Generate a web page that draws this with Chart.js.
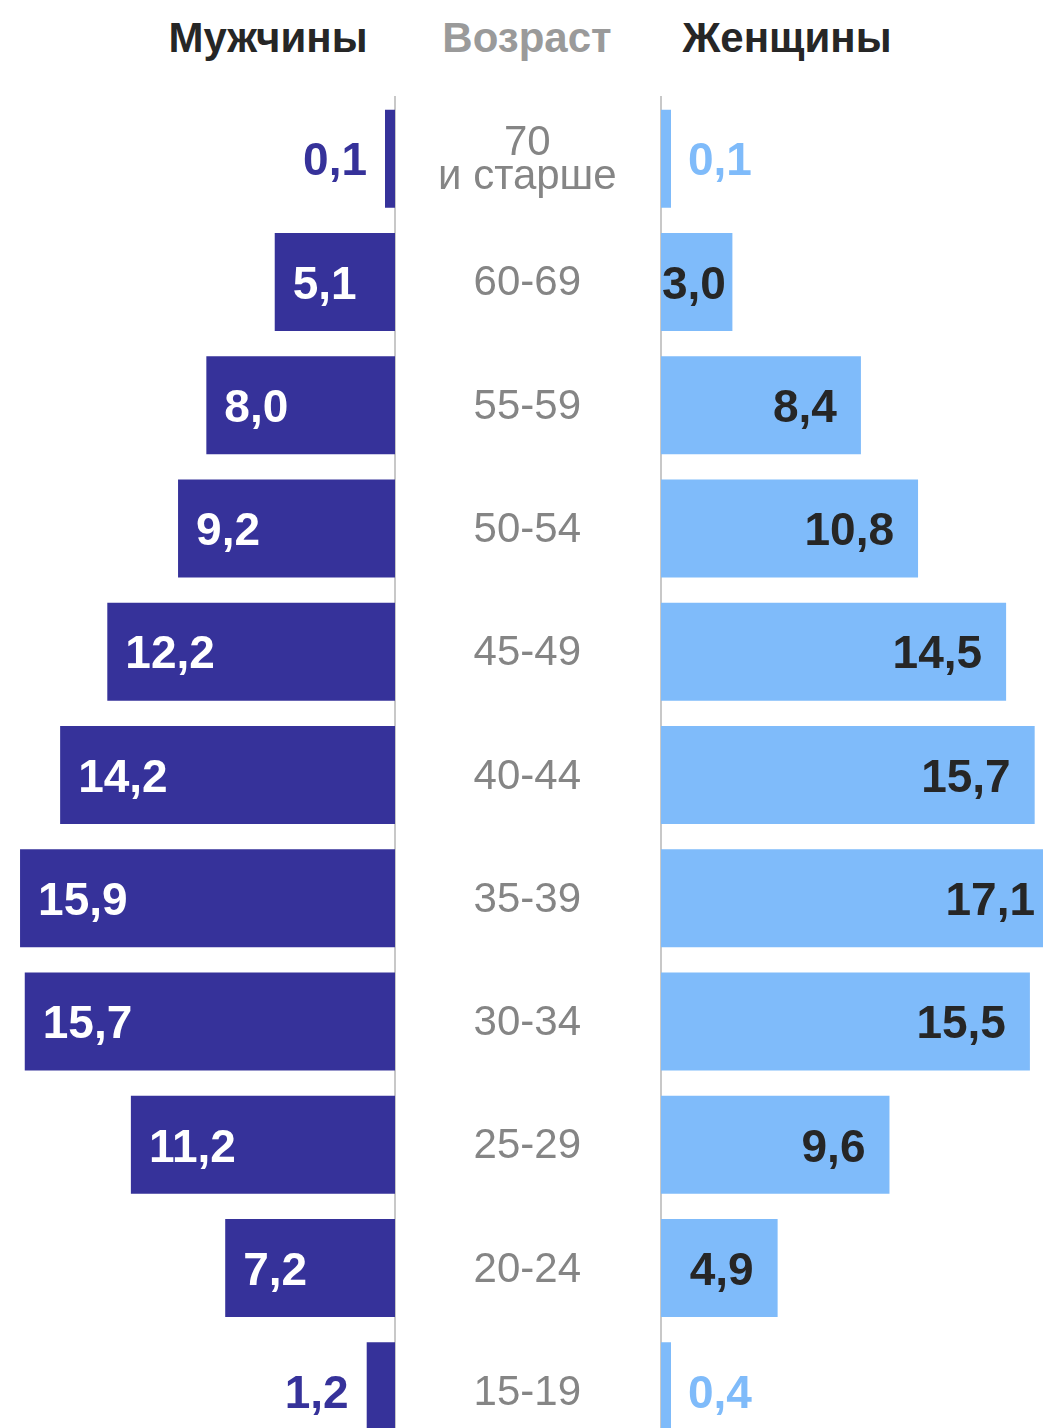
<!DOCTYPE html>
<html>
<head>
<meta charset="utf-8">
<script src="https://cdn.jsdelivr.net/npm/chart.js@4/dist/chart.umd.min.js"></script>
<style>
  body { margin: 0; background: #fff; }
  #wrap { position: relative; width: 1043px; height: 1428px; overflow: hidden; font-family: "Liberation Sans", Arial, sans-serif; }
  .head { position: absolute; top: 13px; font-weight: bold; font-size: 42px; line-height: 50px; text-align: center; width: 260px; }
  canvas { position: absolute; top: 0; }
</style>
</head>
<body>
<div id="wrap">
  <div class="head" style="left:138px;color:#262626">Мужчины</div>
  <div class="head" style="left:397px;color:#9a9a9a">Возраст</div>
  <div class="head" style="left:657px;color:#262626">Женщины</div>
  <canvas id="men" width="660" height="1460" style="left:0"></canvas>
  <canvas id="women" width="384" height="1460" style="left:659px"></canvas>
</div>
<script>
let ages = [['70', 'и старше'], '60-69', '55-59', '50-54', '45-49', '40-44', '35-39', '30-34', '25-29', '20-24', '15-19'];
let men = [0.1, 5.1, 8.0, 9.2, 12.2, 14.2, 15.9, 15.7, 11.2, 7.2, 1.2];
let women = [0.1, 3.0, 8.4, 10.8, 14.5, 15.7, 17.1, 15.5, 9.6, 4.9, 0.4];

let menColor = '#36329a';
let womenColor = '#7fbbfa';
let lineColor = '#c8c8c8';
let font = '"Liberation Sans", Arial, sans-serif';

function fmt(v) {
    return v.toFixed(1).replace('.', ',');
}

// value labels drawn on or next to each bar
let barLabels = {
    id: 'barLabels',
    afterDatasetsDraw(chart, args, opts) {
        let ctx = chart.ctx;
        let area = chart.chartArea;
        let meta = chart.getDatasetMeta(0);
        let values = chart.data.datasets[0].data;
        ctx.save();
        ctx.font = 'bold 46px ' + font;
        ctx.textBaseline = 'middle';
        meta.data.forEach((el, i) => {
            let text = fmt(values[i]);
            let w = ctx.measureText(text).width;
            let y = el.y + 4;
            if (opts.side == 'left') {
                let len = el.base - el.x;
                if (len > w + 30) {
                    ctx.fillStyle = '#ffffff';
                    ctx.textAlign = 'left';
                    ctx.fillText(text, el.x + 18, y);
                } else {
                    ctx.fillStyle = menColor;
                    ctx.textAlign = 'right';
                    ctx.fillText(text, el.x - 18, y);
                }
            } else {
                let len = el.x - el.base;
                if (len > w) {
                    ctx.fillStyle = '#262626';
                    ctx.textAlign = 'right';
                    let x = Math.min(el.x - 24, area.right - 8);
                    x = Math.max(x, el.base + w + 1);
                    ctx.fillText(text, x, y);
                } else {
                    ctx.fillStyle = womenColor;
                    ctx.textAlign = 'left';
                    ctx.fillText(text, el.x + 17, y);
                }
            }
        });
        ctx.restore();
    }
};

let menChart = new Chart(document.getElementById('men'), {
    type: 'bar',
    data: {
        labels: ages,
        datasets: [{
            data: men,
            backgroundColor: menColor,
            categoryPercentage: 1,
            barPercentage: 0.795,
            minBarLength: 10
        }]
    },
    options: {
        indexAxis: 'y',
        responsive: false,
        animation: false,
        layout: { padding: { top: 97, bottom: 7, left: 0, right: 0 } },
        scales: {
            x: { type: 'linear', reverse: true, min: 0, max: 16.75, display: false },
            y: {
                position: 'right',
                grid: { display: false },
                border: { display: true, color: lineColor, width: 2 },
                ticks: {
                    crossAlign: 'center',
                    padding: 35,
                    labelOffset: 2,
                    color: '#858585',
                    font: { family: font, size: 42, lineHeight: 0.8 }
                },
                afterFit: s => {
                    s.width = 265;
                    s.paddingTop = 0;
                    s.paddingBottom = 0;
                }
            }
        },
        plugins: {
            legend: { display: false },
            tooltip: { enabled: false },
            barLabels: { side: 'left' }
        }
    },
    plugins: [barLabels]
});

let womenChart = new Chart(document.getElementById('women'), {
    type: 'bar',
    data: {
        labels: ages,
        datasets: [{
            data: women,
            backgroundColor: womenColor,
            categoryPercentage: 1,
            barPercentage: 0.795,
            minBarLength: 10
        }]
    },
    options: {
        indexAxis: 'y',
        responsive: false,
        animation: false,
        layout: { padding: { top: 97, bottom: 7, left: 0, right: 0 } },
        scales: {
            x: { type: 'linear', min: 0, max: 16.05, display: false },
            y: {
                position: 'left',
                grid: { display: false },
                border: { display: true, color: lineColor, width: 2 },
                ticks: { display: false },
                afterFit: s => { s.width = 2; }
            }
        },
        plugins: {
            legend: { display: false },
            tooltip: { enabled: false },
            barLabels: { side: 'right' }
        }
    },
    plugins: [barLabels]
});
</script>
</body>
</html>
